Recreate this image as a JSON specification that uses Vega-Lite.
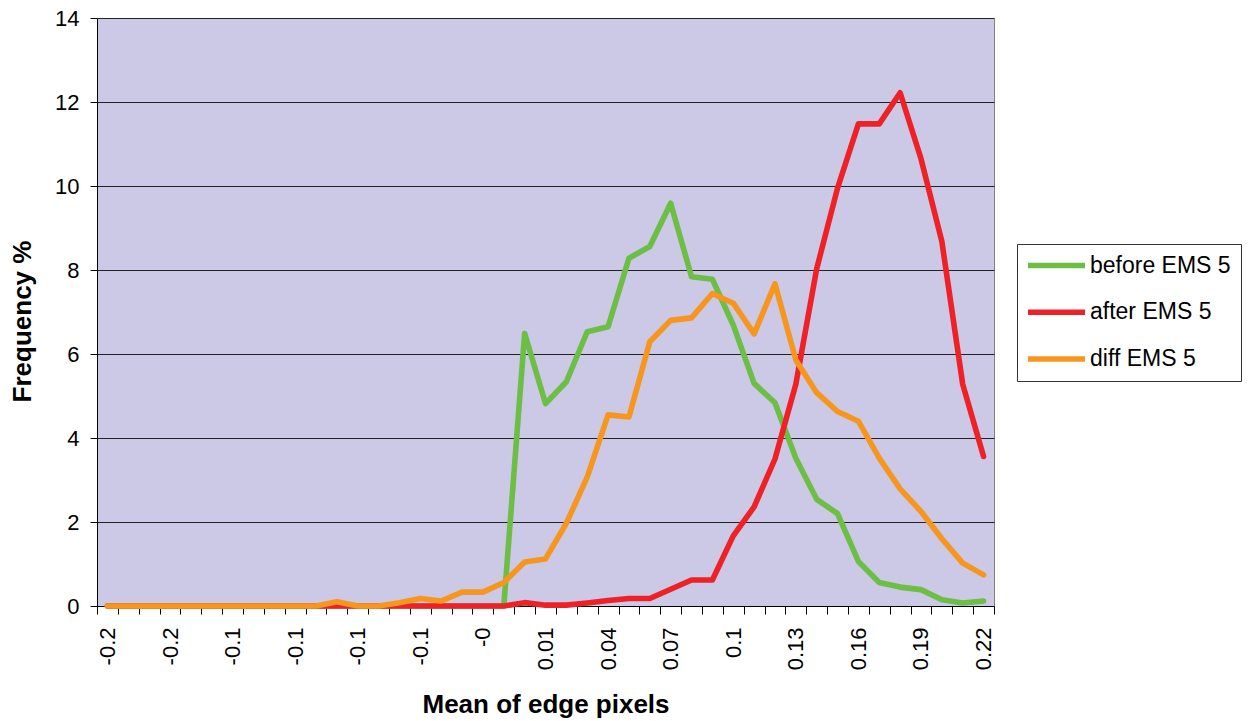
{
  "$schema": "https://vega.github.io/schema/vega-lite/v6.json",
  "width": 897,
  "height": 588,
  "autosize": {"type": "none"},
  "padding": {"left": 97, "top": 18, "right": 254, "bottom": 115},
  "background": "white",
  "config": {
    "font": "Liberation Sans",
    "view": {"fill": "#CBC9E5", "stroke": "#808080", "strokeWidth": 1}
  },
  "data": {
    "values": [
      {"x": -0.20, "before EMS 5": 0, "after EMS 5": 0, "diff EMS 5": 0},
      {"x": -0.19, "before EMS 5": 0, "after EMS 5": 0, "diff EMS 5": 0},
      {"x": -0.18, "before EMS 5": 0, "after EMS 5": 0, "diff EMS 5": 0},
      {"x": -0.17, "before EMS 5": 0, "after EMS 5": 0, "diff EMS 5": 0},
      {"x": -0.16, "before EMS 5": 0, "after EMS 5": 0, "diff EMS 5": 0},
      {"x": -0.15, "before EMS 5": 0, "after EMS 5": 0, "diff EMS 5": 0},
      {"x": -0.14, "before EMS 5": 0, "after EMS 5": 0, "diff EMS 5": 0},
      {"x": -0.13, "before EMS 5": 0, "after EMS 5": 0, "diff EMS 5": 0},
      {"x": -0.12, "before EMS 5": 0, "after EMS 5": 0, "diff EMS 5": 0},
      {"x": -0.11, "before EMS 5": 0, "after EMS 5": 0, "diff EMS 5": 0},
      {"x": -0.10, "before EMS 5": 0, "after EMS 5": 0, "diff EMS 5": 0},
      {"x": -0.09, "before EMS 5": 0, "after EMS 5": 0, "diff EMS 5": 0.1},
      {"x": -0.08, "before EMS 5": 0, "after EMS 5": 0, "diff EMS 5": 0},
      {"x": -0.07, "before EMS 5": 0, "after EMS 5": 0, "diff EMS 5": 0},
      {"x": -0.06, "before EMS 5": 0, "after EMS 5": 0, "diff EMS 5": 0.08},
      {"x": -0.05, "before EMS 5": 0, "after EMS 5": 0, "diff EMS 5": 0.18},
      {"x": -0.04, "before EMS 5": 0, "after EMS 5": 0, "diff EMS 5": 0.12},
      {"x": -0.03, "before EMS 5": 0, "after EMS 5": 0, "diff EMS 5": 0.33},
      {"x": -0.02, "before EMS 5": 0, "after EMS 5": 0, "diff EMS 5": 0.33},
      {"x": -0.01, "before EMS 5": 0, "after EMS 5": 0, "diff EMS 5": 0.56},
      {"x": 0.00, "before EMS 5": 6.49, "after EMS 5": 0.08, "diff EMS 5": 1.05},
      {"x": 0.01, "before EMS 5": 4.82, "after EMS 5": 0.02, "diff EMS 5": 1.12},
      {"x": 0.02, "before EMS 5": 5.34, "after EMS 5": 0.02, "diff EMS 5": 1.97},
      {"x": 0.03, "before EMS 5": 6.53, "after EMS 5": 0.07, "diff EMS 5": 3.07},
      {"x": 0.04, "before EMS 5": 6.65, "after EMS 5": 0.13, "diff EMS 5": 4.55},
      {"x": 0.05, "before EMS 5": 8.28, "after EMS 5": 0.18, "diff EMS 5": 4.5},
      {"x": 0.06, "before EMS 5": 8.56, "after EMS 5": 0.18, "diff EMS 5": 6.29},
      {"x": 0.07, "before EMS 5": 9.59, "after EMS 5": 0.4, "diff EMS 5": 6.8},
      {"x": 0.08, "before EMS 5": 7.84, "after EMS 5": 0.62, "diff EMS 5": 6.86},
      {"x": 0.09, "before EMS 5": 7.78, "after EMS 5": 0.62, "diff EMS 5": 7.44},
      {"x": 0.10, "before EMS 5": 6.69, "after EMS 5": 1.67, "diff EMS 5": 7.21},
      {"x": 0.11, "before EMS 5": 5.3, "after EMS 5": 2.36, "diff EMS 5": 6.48},
      {"x": 0.12, "before EMS 5": 4.84, "after EMS 5": 3.5, "diff EMS 5": 7.67},
      {"x": 0.13, "before EMS 5": 3.52, "after EMS 5": 5.28, "diff EMS 5": 5.86},
      {"x": 0.14, "before EMS 5": 2.54, "after EMS 5": 8.03, "diff EMS 5": 5.08},
      {"x": 0.15, "before EMS 5": 2.2, "after EMS 5": 9.95, "diff EMS 5": 4.63},
      {"x": 0.16, "before EMS 5": 1.06, "after EMS 5": 11.48, "diff EMS 5": 4.4},
      {"x": 0.17, "before EMS 5": 0.56, "after EMS 5": 11.48, "diff EMS 5": 3.52},
      {"x": 0.18, "before EMS 5": 0.45, "after EMS 5": 12.22, "diff EMS 5": 2.79},
      {"x": 0.19, "before EMS 5": 0.39, "after EMS 5": 10.65, "diff EMS 5": 2.25},
      {"x": 0.20, "before EMS 5": 0.15, "after EMS 5": 8.68, "diff EMS 5": 1.6},
      {"x": 0.21, "before EMS 5": 0.07, "after EMS 5": 5.28, "diff EMS 5": 1.02},
      {"x": 0.22, "before EMS 5": 0.12, "after EMS 5": 3.56, "diff EMS 5": 0.74}
    ]
  },
  "transform": [
    {"fold": ["before EMS 5", "after EMS 5", "diff EMS 5"], "as": ["series", "freq"]}
  ],
  "encoding": {
    "x": {
      "field": "x",
      "type": "ordinal",
      "scale": {"type": "band", "paddingInner": 0, "paddingOuter": 0},
      "axis": {
        "title": "Mean of edge pixels",
        "titleFontSize": 26,
        "titleFontWeight": "bold",
        "titleColor": "#000",
        "titleBaseline": "alphabetic",
        "titleY": 106,
        "labelAngle": -90,
        "labelFontSize": 22,
        "labelColor": "#000",
        "labelPadding": 13,
        "labelOverlap": false,
        "labelExpr": "round((datum.value + 0.2) * 100) % 3 != 0 ? '' : datum.value < -0.15 ? '-0.2' : datum.value < -0.03 ? '-0.1' : datum.value < 0 ? '-0' : format(datum.value, '.2~f')",
        "tickBand": "extent",
        "tickSize": 8,
        "tickColor": "#000",
        "domainColor": "#000",
        "grid": false
      }
    },
    "y": {
      "field": "freq",
      "type": "quantitative",
      "scale": {"domain": [0, 14], "nice": false},
      "axis": {
        "title": "Frequency %",
        "titleFontSize": 26,
        "titleFontWeight": "bold",
        "titleColor": "#000",
        "titleBaseline": "alphabetic",
        "titleAlign": "center",
        "titleX": -67,
        "titleY": 303,
        "values": [0, 2, 4, 6, 8, 10, 12, 14],
        "labelFontSize": 22,
        "labelColor": "#000",
        "labelPadding": 11,
        "tickSize": 7,
        "tickColor": "#000",
        "domainColor": "#000",
        "grid": true,
        "gridColor": "#222",
        "gridWidth": 1
      }
    },
    "color": {
      "field": "series",
      "type": "nominal",
      "scale": {
        "domain": ["before EMS 5", "after EMS 5", "diff EMS 5"],
        "range": ["#6DBE45", "#EE2226", "#F7961E"]
      },
      "legend": {
        "title": null,
        "orient": "none",
        "legendX": 920,
        "legendY": 226,
        "padding": 10,
        "fillColor": "white",
        "strokeColor": "#333",
        "symbolType": "M-5,0H5",
        "symbolSize": 130,
        "symbolOffset": 18,
        "symbolStrokeWidth": 5.5,
        "labelFontSize": 23,
        "labelColor": "#000",
        "labelOffset": 22,
        "rowPadding": 22.7
      }
    }
  },
  "layer": [
    {
      "transform": [{"filter": "datum.series == 'before EMS 5'"}],
      "mark": {"type": "line", "strokeWidth": 5.6, "strokeCap": "round", "strokeJoin": "round"}
    },
    {
      "transform": [{"filter": "datum.series == 'after EMS 5'"}],
      "mark": {"type": "line", "strokeWidth": 5.6, "strokeCap": "round", "strokeJoin": "round"}
    },
    {
      "transform": [{"filter": "datum.series == 'diff EMS 5'"}],
      "mark": {"type": "line", "strokeWidth": 5.6, "strokeCap": "round", "strokeJoin": "round"}
    }
  ]
}
